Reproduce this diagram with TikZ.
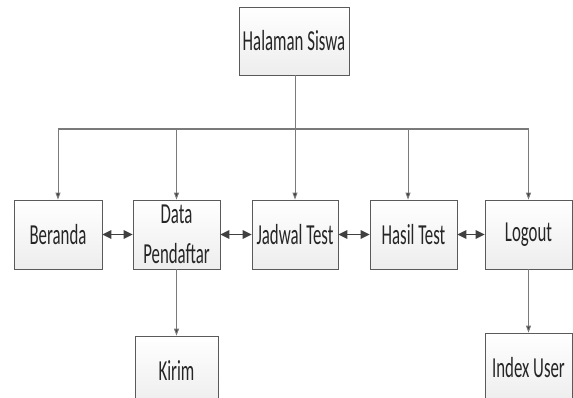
\documentclass[tikz,border=0pt]{standalone}
\usepackage{fontspec}
\usetikzlibrary{arrows.meta,shadows}
\newfontfamily\boxfont{Carlito}[FakeStretch=0.58]
\definecolor{boxline}{HTML}{5A5A5A}
\definecolor{wire}{HTML}{7A7A7A}
\definecolor{dark}{HTML}{404040}
\begin{document}
\begin{tikzpicture}[x=1pt,y=-1pt,
  menubox/.style={draw=boxline, line width=0.8pt, top color=white, bottom color=gray!14,
    minimum height=69pt, inner sep=0pt, align=center,
    font=\boxfont\fontsize{29}{40}\selectfont, text=black!85,
    drop shadow={shadow xshift=1.2pt, shadow yshift=-1.2pt, opacity=0.35, fill=gray}},
  branch/.style={draw=wire, line width=0.9pt,
    -{Triangle[length=7pt,width=5pt,fill=dark]}},
  bus/.style={draw=wire, line width=1.3pt},
  link/.style={draw=dark, line width=1.6pt,
    {Triangle[length=9pt,width=8.5pt]}-{Triangle[length=9pt,width=8.5pt]}}]
  \useasboundingbox (0,0) rectangle (573,398);
  \begin{scope}
    \clip (0,0) rectangle (573,398);
    % menu boxes
    \node[menubox, minimum width=110pt, minimum height=68pt] (top) at (294,41) {Halaman Siswa};
    \node[menubox, minimum width=88pt] (beranda) at (58,234.5) {Beranda};
    \node[menubox, minimum width=87pt] (data) at (176.5,234.5) {Data\\Pendaftar};
    \node[menubox, minimum width=86pt] (jadwal) at (295,234.5) {Jadwal Test};
    \node[menubox, minimum width=87pt] (hasil) at (413.5,234.5) {Hasil Test};
    \node[menubox, minimum width=87pt] (logout) at (528.5,234.5) {Logout};
    \node[menubox, minimum width=83pt] (kirim) at (176.5,370.5) {Kirim};
    \node[menubox, minimum width=87pt] (index) at (528.5,367.5) {Index User};
  \end{scope}
  % distribution bus from the top page
  \coordinate (hub) at (295,129);
  \coordinate (hh) at (408,129);
  \draw[draw=wire, line width=0.9pt] (top.south -| hub) -- (hub);
  \draw[bus] (hub -| beranda) -- (hub -| logout);
  \draw[branch] (hub -| beranda) -- (beranda.north);
  \draw[branch] (hub -| data) -- (data.north);
  \draw[branch] (hub) -- (hub |- jadwal.north);
  \draw[branch] (hh) -- (hh |- hasil.north);
  \draw[branch] (hub -| logout) -- (logout.north);
  % links between neighbouring pages
  \draw[link] (beranda.east) -- (data.west);
  \draw[link] (data.east) -- (jadwal.west);
  \draw[link] (jadwal.east) -- (hasil.west);
  \draw[link] (hasil.east) -- (logout.west);
  % sub pages
  \draw[branch] (data.south) -- (kirim.north);
  \draw[branch] (logout.south) -- (index.north);
\end{tikzpicture}
\end{document}
